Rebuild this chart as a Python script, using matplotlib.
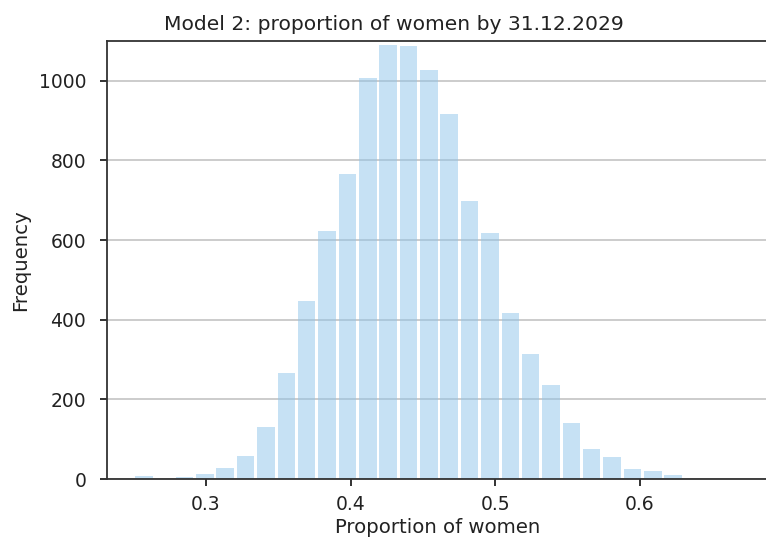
import numpy as np
import matplotlib.pyplot as plt

# histogram counts (27 equal bins, 0.25 .. 0.63)
bin_lo = 0.25
bin_hi = 0.63
counts = [7, 0, 6, 13, 28, 59, 130, 266, 448, 623, 766, 1006, 1091, 1087,
          1026, 916, 698, 618, 417, 314, 236, 140, 75, 54, 24, 19, 9]

edges = np.linspace(bin_lo, bin_hi, len(counts) + 1)
centers = (edges[:-1] + edges[1:]) / 2

fig = plt.figure(figsize=(7.66, 5.41), dpi=100)
# axes runs a little past the right edge (reference is cropped there)
ax = fig.add_axes([0.1397, 0.1146, 0.8642, 0.8096])

ax.hist(centers, bins=edges, weights=counts, rwidth=0.86,
        color='#8fc5ea', alpha=0.5, zorder=2)
ax.grid(axis='y', color='#b0b0b0', alpha=0.75, linewidth=1.2, zorder=0)
ax.set_axisbelow(True)

ax.set_xlim(0.2316, 0.6892)
ax.set_ylim(0, 1100)
ax.set_xticks([0.3, 0.4, 0.5, 0.6])
ax.set_yticks([0, 200, 400, 600, 800, 1000])

ax.set_title('Model 2: proportion of women by 31.12.2029', fontsize=14.6,
             color='#222222', pad=8, x=0.4335)
ax.set_xlabel('Proportion of women', fontsize=14.2, color='#222222', labelpad=3)
ax.set_ylabel('Frequency', fontsize=14.2, color='#222222', labelpad=6)
ax.tick_params(labelsize=13.5, width=1.3, length=5, colors='#222222')
ax.tick_params(axis='x', pad=6.5)
ax.tick_params(axis='y', pad=10)
for s in ax.spines.values():
    s.set_linewidth(1.3)
    s.set_color('#333333')

fig.savefig('out.png', dpi=100)
